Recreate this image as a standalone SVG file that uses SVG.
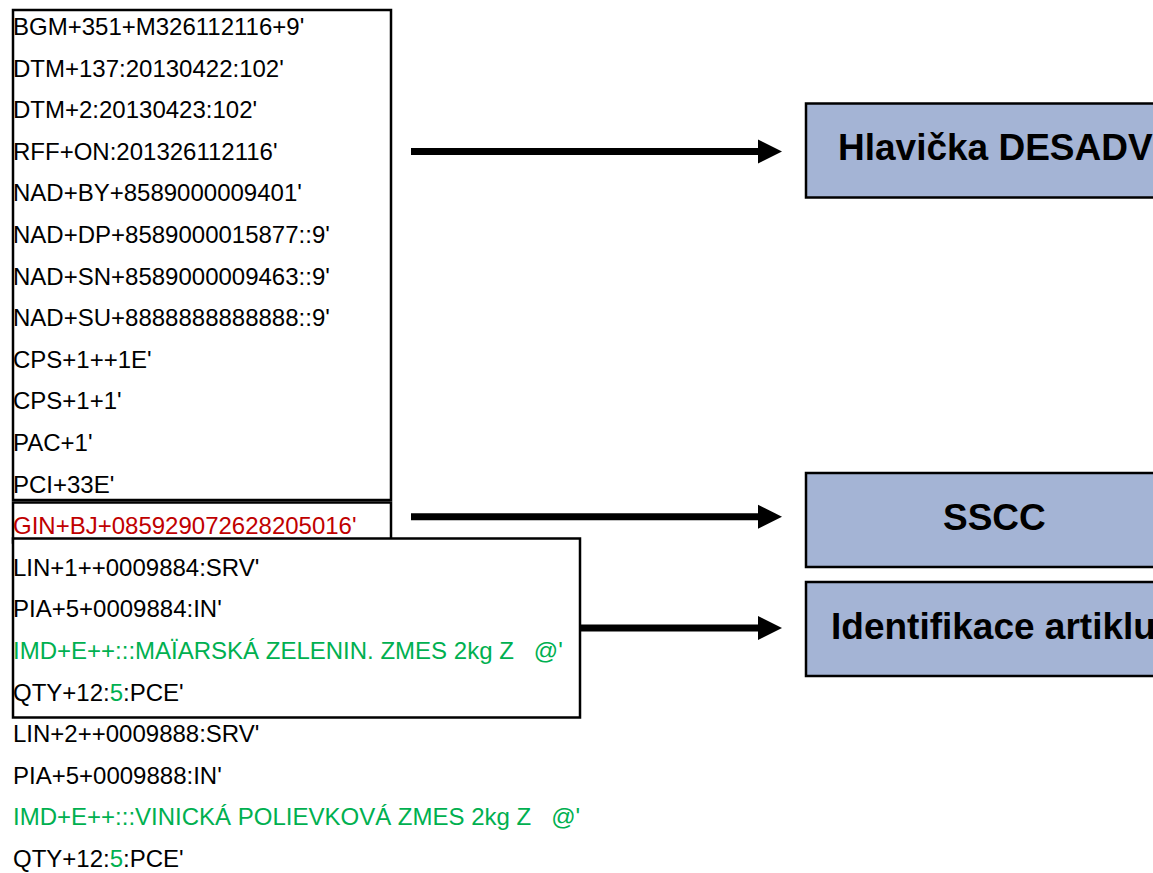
<svg xmlns="http://www.w3.org/2000/svg" width="1153" height="873" viewBox="0 0 1153 873">
  <style>
    .seg { font-family: "Liberation Sans", Arial, sans-serif; font-size: 24px; fill: #000; white-space: pre; }
    .red { fill: #c00000; }
    .grn { fill: #00b050; }
    .frame { fill: #fff; stroke: #000; stroke-width: 2.5; }
    .node rect { fill: #a4b4d5; stroke: #000; stroke-width: 2.5; }
    .node text { font-family: "Liberation Sans", Arial, sans-serif; font-size: 37px; font-weight: bold; fill: #000; }
    .conn { stroke: #000; stroke-width: 7; fill: none; marker-end: url(#head); }
  </style>
  <defs>
    <marker id="head" markerUnits="userSpaceOnUse" markerWidth="25" markerHeight="25" refX="0" refY="12" orient="auto" viewBox="0 0 25 24">
      <path d="M0,0 L24,12 L0,24 Z" fill="#000"/>
    </marker>
  </defs>
  <rect width="1153" height="873" fill="#fff"/>

  <g id="header-segments">
    <rect class="frame" x="13" y="10" width="378" height="490"/>
    <text class="seg" x="13" y="35">BGM+351+M326112116+9'</text>
    <text class="seg" x="13" y="76.6">DTM+137:20130422:102'</text>
    <text class="seg" x="13" y="118.2">DTM+2:20130423:102'</text>
    <text class="seg" x="13" y="159.8">RFF+ON:201326112116'</text>
    <text class="seg" x="13" y="201.4">NAD+BY+8589000009401'</text>
    <text class="seg" x="13" y="243">NAD+DP+8589000015877::9'</text>
    <text class="seg" x="13" y="284.6">NAD+SN+8589000009463::9'</text>
    <text class="seg" x="13" y="326.2">NAD+SU+8888888888888::9'</text>
    <text class="seg" x="13" y="367.8">CPS+1++1E'</text>
    <text class="seg" x="13" y="409.4">CPS+1+1'</text>
    <text class="seg" x="13" y="451">PAC+1'</text>
    <text class="seg" x="13" y="492.6">PCI+33E'</text>
  </g>

  <g id="sscc-segment">
    <rect class="frame" x="13" y="502.5" width="378" height="40"/>
    <text class="seg red" x="13" y="534.2">GIN+BJ+085929072628205016'</text>
  </g>

  <g id="item-segments">
    <rect class="frame" x="13" y="538.5" width="567" height="179"/>
    <text class="seg" x="13" y="575.8">LIN+1++0009884:SRV'</text>
    <text class="seg" x="13" y="617.4">PIA+5+0009884:IN'</text>
    <text class="seg grn" x="13" y="659">IMD+E++:::MAÏARSKÁ ZELENIN. ZMES 2kg Z   @'</text>
    <text class="seg" x="13" y="700.6">QTY+12:<tspan class="grn">5</tspan>:PCE'</text>
  </g>

  <g id="item-segments-2">
    <text class="seg" x="13" y="742.2">LIN+2++0009888:SRV'</text>
    <text class="seg" x="13" y="783.8">PIA+5+0009888:IN'</text>
    <text class="seg grn" x="13" y="825.4">IMD+E++:::VINICKÁ POLIEVKOVÁ ZMES 2kg Z   @'</text>
    <text class="seg" x="13" y="867">QTY+12:<tspan class="grn">5</tspan>:PCE'</text>
  </g>

  <g id="connectors">
    <line class="conn" x1="411" y1="151.5" x2="758" y2="151.5"/>
    <line class="conn" x1="411" y1="516.7" x2="758" y2="516.7"/>
    <line class="conn" x1="581" y1="628" x2="758" y2="628"/>
  </g>

  <g id="node-hlavicka" class="node">
    <rect x="806" y="103.5" width="380" height="94"/>
    <text x="838" y="160">Hlavička DESADV</text>
  </g>
  <g id="node-sscc" class="node">
    <rect x="806" y="473" width="380" height="94"/>
    <text x="943" y="530">SSCC</text>
  </g>
  <g id="node-identifikace" class="node">
    <rect x="806" y="582" width="380" height="94"/>
    <text x="831" y="639">Identifikace artiklu</text>
  </g>
</svg>
